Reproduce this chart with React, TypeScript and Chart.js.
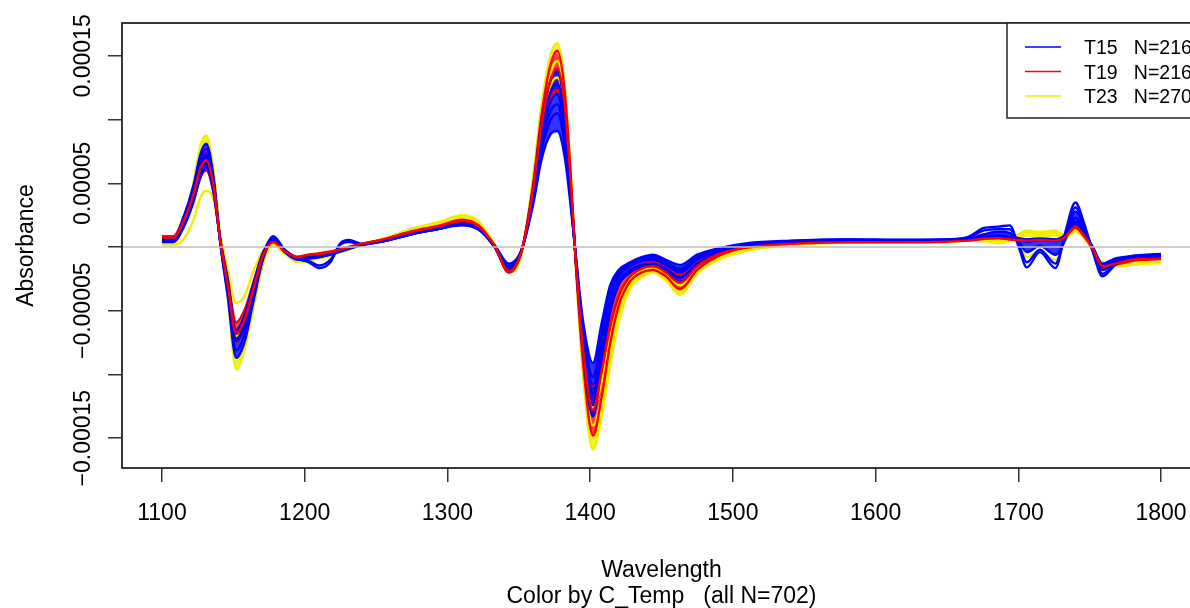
import React, { useEffect, useRef } from "react";
import { Chart, registerables } from "chart.js";

Chart.register(...registerables);

// Wavelength grid (nm)
const wavelengths = [
  1100, 1108, 1115, 1122, 1127, 1131, 1136, 1141, 1146, 1152, 1158, 1164, 1171, 1178, 1186, 1195, 1203, 1210, 1218, 1225,
  1231, 1240, 1255, 1275, 1295, 1310, 1322, 1333, 1343, 1352, 1360, 1366, 1372, 1377, 1382, 1386, 1390, 1395, 1402, 1408,
  1414, 1420, 1428, 1436, 1444, 1453, 1463, 1475, 1490, 1510, 1540, 1580, 1620, 1650, 1665, 1676, 1686, 1694, 1700, 1706,
  1715, 1726, 1733, 1740, 1746, 1752, 1759, 1768, 1780, 1790, 1800,
];

// Absorbance values in units of 1e-5, representative spectra per group
const T15_a = [
  0.6, 0.6, 2.3, 4.8, 7.3, 8.1, 5.6, 0.2, -3.8, -8.7, -7.4, -4.3, -0.9, 0.6, -0.4, -1.0, -0.9, -0.8, -0.6, -0.35,
  -0.15, 0.15, 0.45, 1.0, 1.45, 1.8, 1.4, 0.0, -1.9, -0.3, 4.6, 9.8, 13.0, 13.8, 10.8, 5.4, -1.2, -8.2, -13.3, -9.4,
  -5.2, -3.0, -2.0, -1.6, -1.5, -1.9, -2.7, -1.5, -0.5, 0.15, 0.4, 0.5, 0.5, 0.5, 0.65, 1.0, 1.2, 1.1, 0.5, -0.4,
  0.1, -0.6, 0.6, 2.8, 1.6, -0.2, -1.8, -1.3, -0.9, -0.8, -0.75,
];
const T15_b = [
  0.5, 0.5, 1.9, 4.2, 6.4, 7.2, 5.0, 0.3, -3.1, -7.4, -6.2, -3.5, -0.6, 0.55, -0.35, -0.95, -0.85, -0.75, -0.6, -0.3,
  -0.1, 0.2, 0.5, 1.1, 1.5, 1.85, 1.45, 0.05, -1.7, -0.25, 4.0, 8.6, 11.3, 12.0, 9.2, 4.6, -1.0, -7.0, -11.5, -7.8,
  -3.9, -2.3, -1.5, -1.1, -1.0, -1.4, -2.0, -1.0, -0.3, 0.2, 0.4, 0.55, 0.5, 0.55, 0.6, 0.8, 0.9, 0.8, 0.6, 0.4,
  0.55, 0.45, 0.9, 2.3, 1.3, -0.1, -1.5, -1.1, -0.8, -0.7, -0.65,
];
const T15_c = [
  0.45, 0.45, 1.7, 3.8, 5.9, 6.6, 4.6, 0.4, -2.7, -6.8, -5.6, -3.1, -0.5, 0.5, -0.3, -0.9, -0.8, -0.7, -0.55, -0.3,
  -0.1, 0.2, 0.5, 1.1, 1.5, 1.75, 1.4, 0.1, -1.5, -0.2, 3.6, 7.6, 9.9, 10.5, 8.2, 4.1, -0.8, -6.3, -10.2, -6.8,
  -3.4, -2.0, -1.3, -0.9, -0.8, -1.2, -1.7, -0.8, -0.2, 0.25, 0.45, 0.55, 0.55, 0.55, 0.6, 0.75, 0.8, 0.75, 0.65, 0.55,
  0.6, 0.55, 0.9, 2.0, 1.2, 0.0, -1.4, -1.0, -0.75, -0.65, -0.6,
];
const T15_d = [
  0.4, 0.4, 1.5, 3.5, 5.5, 6.2, 4.4, 0.5, -2.5, -6.5, -5.3, -2.9, -0.4, 0.5, -0.3, -0.85, -0.8, -0.7, -0.5, -0.25,
  -0.05, 0.2, 0.5, 1.05, 1.45, 1.7, 1.35, 0.15, -1.3, -0.2, 3.3, 6.9, 8.8, 9.1, 7.2, 3.6, -0.7, -5.8, -9.1, -6.0,
  -3.0, -1.8, -1.2, -0.8, -0.6, -1.0, -1.4, -0.6, -0.1, 0.3, 0.5, 0.6, 0.55, 0.6, 0.65, 0.8, 0.85, 0.8, 0.7, 0.6,
  0.65, 0.6, 0.95, 1.8, 1.1, 0.05, -1.3, -0.9, -0.7, -0.6, -0.55,
];
const T15_e = [
  0.55, 0.55, 2.0, 4.3, 6.3, 7.0, 4.9, 0.3, -3.2, -7.2, -6.0, -3.4, -0.5, 0.85, -0.2, -0.9, -1.2, -1.65, -1.2, 0.3,
  0.55, 0.25, 0.45, 1.0, 1.45, 1.8, 1.45, 0.05, -1.8, -0.25, 3.9, 8.2, 10.6, 11.2, 8.6, 4.3, -0.9, -6.8, -10.8, -7.2,
  -3.6, -2.1, -1.4, -1.0, -0.9, -1.3, -1.9, -0.9, -0.25, 0.2, 0.45, 0.6, 0.55, 0.6, 0.8, 1.5, 1.6, 1.7, 0.1, -1.6,
  -0.4, -1.65, 1.2, 3.5, 1.9, -0.3, -2.3, -1.4, -0.7, -0.65, -0.6,
];
const T15_f = [
  0.6, 0.6, 2.2, 4.6, 6.9, 7.7, 5.3, 0.2, -3.5, -8.1, -6.8, -3.9, -0.7, 0.75, -0.3, -0.95, -1.1, -1.45, -1.0, 0.2,
  0.4, 0.2, 0.45, 1.0, 1.45, 1.8, 1.4, 0.0, -1.8, -0.3, 4.3, 9.2, 12.1, 12.8, 10.0, 5.0, -1.1, -7.6, -12.4, -8.6,
  -4.6, -2.7, -1.8, -1.4, -1.3, -1.7, -2.4, -1.3, -0.4, 0.15, 0.4, 0.5, 0.5, 0.55, 0.75, 1.3, 1.4, 1.4, 0.3, -1.2,
  -0.2, -1.3, 1.0, 3.1, 1.7, -0.25, -2.1, -1.3, -0.75, -0.7, -0.65,
];

const T19_a = [
  0.85, 0.85, 2.3, 4.6, 6.9, 7.6, 5.4, 0.3, -3.3, -7.5, -6.4, -3.8, -0.8, 0.45, -0.35, -0.85, -0.65, -0.55, -0.4, -0.2,
  -0.05, 0.25, 0.6, 1.25, 1.7, 2.15, 1.7, 0.1, -2.0, -0.3, 4.9, 10.4, 14.2, 15.4, 12.4, 6.4, -1.4, -9.0, -14.8, -11.8,
  -7.6, -4.6, -2.7, -2.0, -1.8, -2.3, -3.3, -1.8, -0.7, 0.0, 0.3, 0.45, 0.45, 0.5, 0.55, 0.65, 0.7, 0.6, 0.55, 0.5,
  0.55, 0.5, 0.85, 1.8, 1.0, -0.15, -1.7, -1.4, -1.1, -1.0, -0.95,
];
const T19_b = [
  0.75, 0.75, 2.0, 4.1, 6.2, 6.8, 4.9, 0.4, -2.9, -6.8, -5.7, -3.3, -0.6, 0.4, -0.35, -0.8, -0.6, -0.55, -0.4, -0.2,
  0.0, 0.25, 0.6, 1.2, 1.65, 2.05, 1.6, 0.1, -1.9, -0.3, 4.5, 9.6, 13.0, 14.0, 11.3, 5.8, -1.2, -8.0, -12.8, -9.8,
  -6.2, -3.8, -2.3, -1.7, -1.5, -2.0, -2.8, -1.5, -0.55, -0.05, 0.25, 0.38, 0.38, 0.42, 0.5, 0.65, 0.7, 0.6, 0.55, 0.5,
  0.55, 0.5, 0.8, 1.6, 0.9, -0.1, -1.5, -1.3, -1.0, -0.95, -0.9,
];
const T19_c = [
  0.65, 0.65, 1.7, 3.6, 5.5, 6.0, 4.3, 0.5, -2.4, -5.9, -4.9, -2.8, -0.4, 0.4, -0.3, -0.75, -0.6, -0.5, -0.35, -0.15,
  0.0, 0.25, 0.55, 1.15, 1.6, 1.95, 1.55, 0.1, -1.7, -0.25, 4.1, 8.8, 11.6, 12.3, 10.0, 5.2, -1.0, -7.0, -10.9, -8.2,
  -5.0, -3.0, -1.8, -1.4, -1.2, -1.6, -2.2, -1.2, -0.35, 0.1, 0.35, 0.5, 0.45, 0.5, 0.55, 0.7, 0.8, 0.7, 0.65, 0.6,
  0.65, 0.6, 0.8, 1.5, 0.85, -0.05, -1.4, -1.2, -0.95, -0.9, -0.85,
];

const T23_a = [
  0.3, 0.3, 2.0, 5.0, 8.0, 8.75, 6.2, 0.5, -3.9, -9.6, -8.0, -4.9, -1.3, 0.2, -0.5, -1.2, -1.1, -0.9, -0.7, -0.4,
  -0.2, 0.2, 0.65, 1.45, 2.0, 2.5, 2.0, 0.2, -2.0, -0.6, 5.5, 11.2, 15.0, 16.0, 13.0, 6.6, -1.6, -10.0, -15.9, -13.4,
  -9.4, -5.9, -3.3, -2.4, -2.0, -2.6, -3.75, -2.1, -1.0, -0.3, 0.15, 0.35, 0.4, 0.45, 0.5, 0.45, 0.3, 0.5, 1.0, 1.3,
  1.2, 1.3, 0.9, 1.3, 0.8, -0.2, -1.3, -1.5, -1.4, -1.3, -1.25,
];
const T23_b = [
  0.3, 0.3, 1.9, 4.8, 7.6, 8.3, 5.9, 0.5, -3.6, -9.0, -7.5, -4.6, -1.2, 0.2, -0.5, -1.1, -1.0, -0.85, -0.65, -0.4,
  -0.2, 0.2, 0.6, 1.4, 1.9, 2.4, 1.9, 0.2, -2.0, -0.5, 5.3, 10.8, 14.4, 15.3, 12.5, 6.4, -1.5, -9.6, -15.0, -12.6,
  -8.8, -5.5, -3.1, -2.2, -1.8, -2.4, -3.4, -1.9, -0.9, -0.25, 0.2, 0.35, 0.4, 0.45, 0.5, 0.55, 0.5, 0.6, 0.9, 1.1,
  1.0, 1.1, 0.85, 1.3, 0.75, -0.2, -1.3, -1.4, -1.35, -1.25, -1.2,
];
const T23_c = [
  0.25, 0.25, 1.6, 4.0, 6.2, 6.8, 5.0, 0.6, -2.8, -7.0, -6.0, -3.6, -0.9, 0.2, -0.45, -1.0, -0.9, -0.8, -0.6, -0.35,
  -0.15, 0.2, 0.6, 1.35, 1.85, 2.3, 1.85, 0.2, -1.9, -0.5, 5.0, 10.2, 13.6, 14.6, 12.0, 6.2, -1.4, -9.0, -14.0, -11.8,
  -8.2, -5.1, -2.9, -2.1, -1.6, -2.2, -3.0, -1.7, -0.8, -0.2, 0.2, 0.4, 0.4, 0.45, 0.5, 0.6, 0.6, 0.55, 0.4, -0.8,
  -0.3, -1.0, 0.5, 1.4, 0.8, -0.15, -1.4, -1.5, -1.4, -1.3, -1.25,
];
const T23_d = [
  0.2, 0.2, 0.6, 2.1, 3.9, 4.4, 3.8, 0.8, -1.6, -4.4, -3.8, -1.9, -0.3, 0.15, -0.45, -1.0, -0.9, -0.8, -0.6, -0.35,
  -0.15, 0.2, 0.6, 1.3, 1.8, 2.2, 1.8, 0.2, -1.9, -0.45, 4.6, 9.6, 12.6, 13.3, 11.0, 5.8, -1.3, -8.2, -12.6, -10.6,
  -7.2, -4.5, -2.6, -1.9, -1.5, -2.0, -2.7, -1.5, -0.7, -0.15, 0.25, 0.4, 0.4, 0.45, 0.5, 0.55, 0.55, 0.6, 0.8, 0.9,
  0.85, 0.9, 0.8, 1.2, 0.7, -0.15, -1.2, -1.35, -1.3, -1.2, -1.15,
];

const groupLabels = ["T15   N=216", "T19   N=216", "T23   N=270"];
const groupColors = ["#0000FF", "#FF0000", "#EEEE00"];
const groupFills = ["rgba(0,0,255,0.8)", "rgba(255,0,0,0.75)", "rgba(238,238,0,0.8)"];

const xTickValues = [1100, 1200, 1300, 1400, 1500, 1600, 1700, 1800];
const yTickValues = [-15, -10, -5, 0, 5, 10, 15];
const yTickLabels = ["\u22120.00015", "", "\u22120.00005", "", "0.00005", "", "0.00015"];

const xTitle = "Wavelength";
const subTitle = "Color by C_Temp   (all N=702)";
const yTitle = "Absorbance";

const FONT = '"Liberation Sans", Arial, Helvetica, sans-serif';

export default function App() {
  const ref = useRef<HTMLCanvasElement | null>(null);

  useEffect(() => {
    const canvas = ref.current;
    if (!canvas) return;

    // onTop: curve index drawn above all other groups
    const groups = [
      { curves: [T15_a, T15_b, T15_c, T15_d, T15_e, T15_f], fillPair: [0, 3], g: 0, onTop: -1 },
      { curves: [T19_a, T19_b, T19_c], fillPair: [0, 2], g: 1, onTop: 1 },
      { curves: [T23_a, T23_b, T23_c, T23_d], fillPair: [0, 1], g: 2, onTop: -1 },
    ];

    const datasets: any[] = [];
    groups.forEach((grp) => {
      const base = datasets.length;
      grp.curves.forEach((vals, k) => {
        const isFill = k === grp.fillPair[0];
        datasets.push({
          data: vals.map((v, i) => ({ x: wavelengths[i], y: v })),
          borderColor: groupColors[grp.g],
          backgroundColor: groupFills[grp.g],
          borderWidth: 2.4,
          pointRadius: 0,
          cubicInterpolationMode: "monotone",
          order: k === grp.onTop ? -1 : 0,
          fill: isFill ? { target: base + grp.fillPair[1] } : false,
        });
      });
    });

    const decor = {
      id: "decor",
      afterDatasetsDraw(chart: any) {
        const { ctx, chartArea, scales } = chart;
        const y0 = scales.y.getPixelForValue(0);
        ctx.save();
        ctx.strokeStyle = "#BEBEBE";
        ctx.lineWidth = 1.5;
        ctx.beginPath();
        ctx.moveTo(chartArea.left, y0);
        ctx.lineTo(chartArea.right, y0);
        ctx.stroke();
        ctx.restore();
      },
      afterDraw(chart: any) {
        const { ctx, chartArea, scales } = chart;
        ctx.save();
        // plot box
        ctx.strokeStyle = "#222";
        ctx.lineWidth = 1.8;
        ctx.strokeRect(chartArea.left, chartArea.top, chartArea.right - chartArea.left, chartArea.bottom - chartArea.top);

        // y tick labels (rotated, R style)
        ctx.fillStyle = "#000";
        ctx.font = `23px ${FONT}`;
        ctx.textAlign = "center";
        ctx.textBaseline = "alphabetic";
        yTickValues.forEach((v, i) => {
          const lab = yTickLabels[i];
          if (!lab) return;
          const py = scales.y.getPixelForValue(v);
          ctx.save();
          ctx.translate(89.5, py);
          ctx.rotate(-Math.PI / 2);
          ctx.fillText(lab, 0, 0);
          ctx.restore();
        });

        // axis titles
        const cx = (chartArea.left + chartArea.right) / 2;
        ctx.fillText(xTitle, cx, 576.5);
        ctx.fillText(subTitle, cx, 603);
        ctx.save();
        ctx.translate(33, (chartArea.top + chartArea.bottom) / 2);
        ctx.rotate(-Math.PI / 2);
        ctx.fillText(yTitle, 0, 0);
        ctx.restore();

        // legend
        const lx = 1007;
        const ly = chartArea.top;
        ctx.fillStyle = "#fff";
        ctx.fillRect(lx, ly, chartArea.right - lx, 95);
        ctx.strokeStyle = "#222";
        ctx.lineWidth = 1.5;
        ctx.strokeRect(lx, ly, chartArea.right - lx, 95);
        ctx.font = `19.5px ${FONT}`;
        ctx.textAlign = "left";
        groupLabels.forEach((lab, i) => {
          const yy = 47 + i * 24.5;
          ctx.strokeStyle = groupColors[i];
          ctx.lineWidth = 1.3;
          ctx.beginPath();
          ctx.moveTo(1025, yy);
          ctx.lineTo(1061, yy);
          ctx.stroke();
          ctx.fillStyle = "#000";
          ctx.fillText(lab, 1084, yy + 7);
        });
        ctx.restore();
      },
    };

    const chart = new Chart(canvas, {
      type: "line",
      data: { datasets },
      options: {
        animation: false,
        responsive: false,
        maintainAspectRatio: false,
        devicePixelRatio: 1,
        layout: { padding: { left: 0, top: 23, right: 39, bottom: 0 } },
        plugins: {
          legend: { display: false },
          tooltip: { enabled: false },
          title: { display: false },
          filler: { drawTime: "beforeDatasetsDraw" },
        },
        elements: { line: { tension: 0 } },
        scales: {
          x: {
            type: "linear",
            min: 1072,
            max: 1828,
            afterBuildTicks: (s: any) => {
              s.ticks = xTickValues.map((v) => ({ value: v }));
            },
            afterFit: (s: any) => {
              s.height = 140;
            },
            grid: { display: true, drawOnChartArea: false, drawTicks: true, tickLength: 14, color: "#333", lineWidth: 1.5 },
            border: { display: false },
            ticks: {
              display: true,
              autoSkip: false,
              maxRotation: 0,
              minRotation: 0,
              padding: 18,
              color: "#000",
              font: { size: 23, family: FONT },
              callback: (v: any) => String(v),
            },
          },
          y: {
            type: "linear",
            min: -17.34,
            max: 17.58,
            afterBuildTicks: (s: any) => {
              s.ticks = yTickValues.map((v) => ({ value: v }));
            },
            afterFit: (s: any) => {
              s.width = 122;
            },
            grid: { display: true, drawOnChartArea: false, drawTicks: true, tickLength: 14, color: "#333", lineWidth: 1.5 },
            border: { display: false },
            ticks: { display: false },
          },
        },
      } as any,
      plugins: [decor],
    });

    return () => {
      chart.destroy();
    };
  }, []);

  return (
    <div
      style={{
        position: "fixed",
        left: 0,
        top: 0,
        width: 1190,
        height: 608,
        overflow: "hidden",
        background: "#fff",
      }}
    >
      <canvas ref={ref} width={1240} height={608} style={{ display: "block", width: 1240, height: 608 }} />
    </div>
  );
}
